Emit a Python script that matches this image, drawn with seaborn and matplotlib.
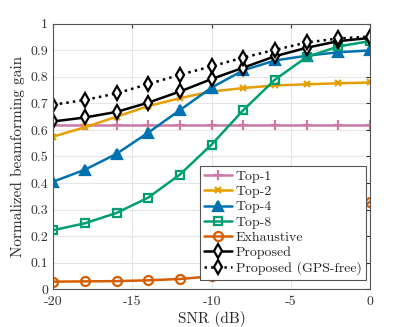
import matplotlib
matplotlib.use("Agg")
import matplotlib.pyplot as plt
import seaborn as sns
import pandas as pd

snr = [-20, -18, -16, -14, -12, -10, -8, -6, -4, -2, 0]
top1 = [0.62] * 11
top2 = [0.575, 0.61, 0.65, 0.69, 0.72, 0.745, 0.758, 0.768, 0.772, 0.776, 0.779]
top4 = [0.405, 0.45, 0.51, 0.59, 0.675, 0.76, 0.825, 0.862, 0.88, 0.893, 0.90]
top8 = [0.222, 0.248, 0.287, 0.345, 0.432, 0.545, 0.675, 0.79, 0.875, 0.915, 0.935]
exhaustive = [0.028, 0.029, 0.030, 0.033, 0.038, 0.048, 0.068, 0.10, 0.15, 0.24, 0.33]
proposed = [0.632, 0.647, 0.668, 0.703, 0.745, 0.792, 0.835, 0.878, 0.91, 0.935, 0.947]
gps_free = [0.695, 0.713, 0.738, 0.773, 0.808, 0.84, 0.873, 0.902, 0.93, 0.945, 0.952]

names = ["Top-1", "Top-2", "Top-4", "Top-8", "Exhaustive", "Proposed", "Proposed (GPS-free)"]
series = [top1, top2, top4, top8, exhaustive, proposed, gps_free]
colors = ["#CC79A7", "#E69F00", "#0072B2", "#009E73", "#D55E00", "black", "black"]
markers = ["+", "x", "^", "s", "o", "d", "d"]
mfc = [None, None, None, "none", "none", "white", "white"]
lstyles = ["-", "-", "-", "-", "-", "-", ":"]
msizes = [7, 5, 7, 5.5, 6.5, 7.5, 7.5]

sns.set_style("white")
plt.rcParams["font.family"] = ["cmr10", "DejaVu Serif"]
plt.rcParams["axes.unicode_minus"] = False
plt.rcParams["mathtext.fontset"] = "cm"

fig = plt.figure(figsize=(4.09, 3.27), dpi=100)
ax = fig.add_axes([0.13, 0.116, 0.775, 0.811])

for n, s, c, m, f, ls, ms in zip(names, series, colors, markers, mfc, lstyles, msizes):
    df = pd.DataFrame({"snr": snr, "gain": s})
    kw = dict(marker=m, markersize=ms, markeredgecolor=c, markeredgewidth=1.6)
    if f is not None:
        kw["markerfacecolor"] = f
    sns.lineplot(data=df, x="snr", y="gain", ax=ax, color=c, linestyle=ls,
                 linewidth=1.8, label=n, **kw)

ax.set_xlim(-20, 0)
ax.set_ylim(0, 1)
ax.set_xticks([-20, -15, -10, -5, 0])
ax.set_xticklabels(["-20", "-15", "-10", "-5", "0"])
ax.set_yticks([0, 0.1, 0.2, 0.3, 0.4, 0.5, 0.6, 0.7, 0.8, 0.9, 1])
ax.set_yticklabels(["0", "0.1", "0.2", "0.3", "0.4", "0.5", "0.6", "0.7", "0.8", "0.9", "1"])
ax.grid(True, color="#e6e6e6", linewidth=0.8)
ax.set_axisbelow(True)
for sp in ax.spines.values():
    sp.set_color("#555555")
    sp.set_linewidth(0.8)
ax.tick_params(direction="in", length=3, labelsize=10, colors="#333333", top=True, right=True)
ax.tick_params(axis="x", pad=5)
ax.set_xlabel("SNR (dB)", fontsize=11, labelpad=2)
ax.set_ylabel("Normalized beamforming gain", fontsize=11)

leg = ax.legend(loc="lower right", bbox_to_anchor=(1.0, 0.02), fontsize=10,
                frameon=True, fancybox=False, framealpha=1.0, handlelength=2.0,
                handletextpad=0.3, labelspacing=0.18, borderpad=0.3, borderaxespad=0.3)
leg.get_frame().set_edgecolor("#555555")
leg.get_frame().set_linewidth(0.8)

fig.savefig("out.png", dpi=100)
